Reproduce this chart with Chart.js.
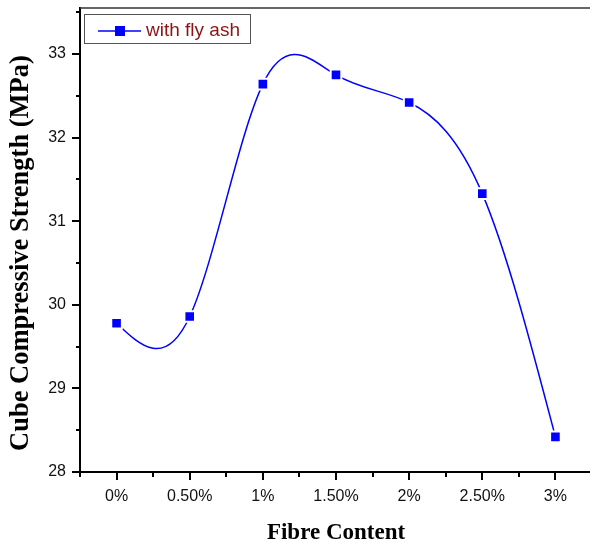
<!DOCTYPE html>
<html>
<head>
<meta charset="utf-8">
<script src="https://cdn.jsdelivr.net/npm/chart.js@4.4.0/dist/chart.umd.min.js"></script>
<style>
html, body { margin: 0; padding: 0; background: #fff; overflow: hidden; }
#wrap { width: 590px; height: 544px; overflow: hidden; }
</style>
</head>
<body>
<div id="wrap"><canvas id="chart" width="592" height="544"></canvas></div>
<script>
// Cube compressive strength vs fibre content
var fibreLabels = ['0%', '0.50%', '1%', '1.50%', '2%', '2.50%', '3%'];
var strengthFlyAsh = [29.78, 29.86, 32.64, 32.75, 32.42, 31.33, 28.42];
var yTicks = [28, 29, 30, 31, 32, 33];
var seriesName = 'with fly ash';
var xTitle = 'Fibre Content';
var yTitle = 'Cube Compressive Strength (MPa)';

var BLUE = '#0000ff';
var TITLE_FONT = '"Liberation Serif", "DejaVu Serif", serif';
var TICK_FONT = '"Liberation Sans", Arial, sans-serif';

// Natural cubic spline through the plotted points (Origin style "Spline" connect)
function drawSpline(ctx, pts) {
    var n = pts.length, i;
    var h = pts[1].x - pts[0].x;
    var m = new Array(n).fill(0);
    var cp = new Array(n).fill(0), dp = new Array(n).fill(0);
    for (i = 1; i < n - 1; i++) {
        var rhs = 6 * (pts[i + 1].y - 2 * pts[i].y + pts[i - 1].y) / (h * h);
        var den = 4 - (i > 1 ? cp[i - 1] : 0);
        cp[i] = 1 / den;
        dp[i] = (rhs - (i > 1 ? dp[i - 1] : 0)) / den;
    }
    for (i = n - 2; i >= 1; i--) {
        m[i] = dp[i] - (i < n - 2 ? cp[i] * m[i + 1] : 0);
    }
    ctx.beginPath();
    ctx.moveTo(pts[0].x, pts[0].y);
    for (i = 0; i < n - 1; i++) {
        var slope = (pts[i + 1].y - pts[i].y) / h;
        var d0 = slope - h * (2 * m[i] + m[i + 1]) / 6;
        var d1 = slope + h * (m[i] + 2 * m[i + 1]) / 6;
        ctx.bezierCurveTo(pts[i].x + h / 3, pts[i].y + d0 * h / 3,
                          pts[i + 1].x - h / 3, pts[i + 1].y - d1 * h / 3,
                          pts[i + 1].x, pts[i + 1].y);
    }
    ctx.stroke();
}

var splinePlugin = {
    id: 'splineLine',
    beforeDatasetsDraw: function (chart) {
        var meta = chart.getDatasetMeta(0);
        var pts = meta.data.map(function (p) { return { x: p.x, y: p.y }; });
        var ctx = chart.ctx;
        ctx.save();
        ctx.strokeStyle = BLUE;
        ctx.lineWidth = 1.5;
        drawSpline(ctx, pts);
        ctx.restore();
    }
};

// Outward major/minor ticks, top frame line, axis titles and boxed legend
var framePlugin = {
    id: 'frame',
    afterDraw: function (chart) {
        var ctx = chart.ctx, area = chart.chartArea;
        var xs = chart.scales.x, ys = chart.scales.y;
        ctx.save();
        ctx.strokeStyle = '#000';
        ctx.lineWidth = 2;
        ctx.beginPath();
        yTicks.forEach(function (v) {
            var y = Math.round(ys.getPixelForValue(v));
            ctx.moveTo(area.left - 8, y); ctx.lineTo(area.left, y);
            var ym = Math.round(ys.getPixelForValue(v + 0.5));
            ctx.moveTo(area.left - 4, ym); ctx.lineTo(area.left, ym);
        });
        for (var i = 0; i < fibreLabels.length; i++) {
            var x = Math.round(xs.getPixelForValue(i));
            ctx.moveTo(x, area.bottom); ctx.lineTo(x, area.bottom + 8);
            var xm = Math.round(xs.getPixelForValue(i - 0.5));
            ctx.moveTo(xm, area.bottom); ctx.lineTo(xm, area.bottom + 5);
        }
        ctx.stroke();

        ctx.lineWidth = 1.5;
        ctx.strokeStyle = '#333';
        ctx.beginPath();
        ctx.moveTo(area.left, area.top);
        ctx.lineTo(area.right, area.top);
        ctx.stroke();

        // axis titles
        ctx.fillStyle = '#000';
        ctx.textAlign = 'center';
        ctx.textBaseline = 'alphabetic';
        ctx.font = 'bold 23px ' + TITLE_FONT;
        ctx.fillText(xTitle, 336, 539);
        ctx.save();
        ctx.translate(28, 253);
        ctx.rotate(-Math.PI / 2);
        ctx.font = 'bold 26.5px ' + TITLE_FONT;
        ctx.fillText(yTitle, 0, 0);
        ctx.restore();

        // legend
        ctx.textAlign = 'left';
        ctx.lineWidth = 1;
        ctx.strokeStyle = '#555';
        ctx.strokeRect(84.5, 14.5, 166, 29);
        ctx.strokeStyle = BLUE;
        ctx.lineWidth = 1.5;
        ctx.beginPath();
        ctx.moveTo(98, 31); ctx.lineTo(141, 31);
        ctx.stroke();
        ctx.fillStyle = BLUE;
        ctx.fillRect(115, 26, 10, 10);
        ctx.fillStyle = '#8c1414';
        ctx.font = '19px ' + TICK_FONT;
        ctx.textBaseline = 'middle';
        ctx.fillText(seriesName, 146, 31);
        ctx.restore();
    }
};

function noPadding(scale) {
    scale.paddingTop = 0;
    scale.paddingBottom = 0;
    scale.paddingLeft = 0;
    scale.paddingRight = 0;
}

new Chart(document.getElementById('chart'), {
    type: 'line',
    data: {
        labels: fibreLabels,
        datasets: [{
            label: seriesName,
            data: strengthFlyAsh,
            showLine: false,
            pointStyle: 'rect',
            pointRadius: 7.5,
            pointBackgroundColor: BLUE,
            pointBorderColor: '#fff',
            pointBorderWidth: 2
        }]
    },
    options: {
        responsive: false,
        animation: false,
        layout: { autoPadding: false, padding: { top: 8, right: 0, left: 0, bottom: 0 } },
        plugins: {
            legend: { display: false },
            tooltip: { enabled: false }
        },
        scales: {
            x: {
                type: 'category',
                offset: true,
                grid: { display: false, drawTicks: false },
                border: { display: true, color: '#000', width: 2 },
                ticks: {
                    color: '#111',
                    padding: 15,
                    maxRotation: 0,
                    font: { family: TICK_FONT, size: 16 }
                },
                afterFit: function (scale) { scale.height = 72; noPadding(scale); }
            },
            y: {
                min: 28,
                max: 33.55,
                grid: { display: false, drawTicks: false },
                border: { display: true, color: '#000', width: 2 },
                ticks: {
                    stepSize: 1,
                    includeBounds: false,
                    color: '#111',
                    padding: 14,
                    font: { family: TICK_FONT, size: 16 }
                },
                afterFit: function (scale) { scale.width = 80; noPadding(scale); }
            }
        }
    },
    plugins: [splinePlugin, framePlugin]
});
</script>
</body>
</html>
